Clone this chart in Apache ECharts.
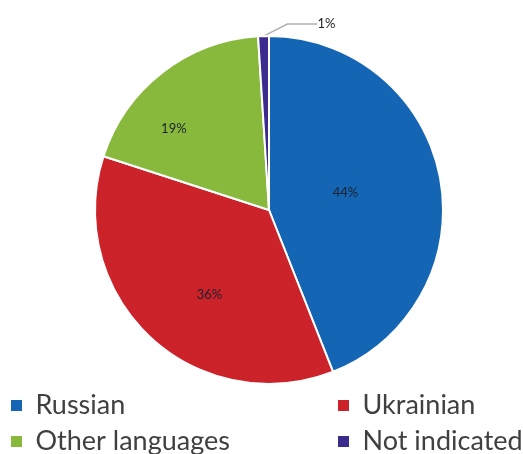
<!DOCTYPE html>
<html><head><meta charset="utf-8">
<script src="https://cdn.jsdelivr.net/npm/echarts@6/dist/echarts.min.js"></script>
<style>html,body{margin:0;padding:0;background:#fff}#c{width:523px;height:454px}</style>
</head><body><div id="c"></div>
<script>
const categories = ["Russian", "Ukrainian", "Other languages", "Not indicated"];
const values = [44, 36, 19, 1];
const colors = ["#1565b5", "#cc2229", "#88b93c", "#3b2b8f"];

const chart = echarts.init(document.getElementById('c'));
const data = categories.map((n, i) => {
  const d = { name: n, value: values[i], itemStyle: { color: colors[i] } };
  if (i === 3) {
    d.label = { position: 'outside', show: true, color: '#222', fontSize: 13 };
    d.labelLine = { show: true, length: 6, length2: 30, lineStyle: { color: '#b0b0b0', width: 1.5 } };
  }
  return d;
});
const labelShift = [[-12, 0], [2, 19], [-40, -10], [107, -6]];
const legendCommon = {
  orient: 'vertical', top: 392, height: 120, itemGap: 9, padding: 0,
  icon: 'path://M0,0h13v13h-13z', itemWidth: 28, itemHeight: 13, symbolKeepAspect: true,
  textStyle: { fontFamily: 'Lato', fontSize: 27, color: '#404040' }
};
chart.setOption({
  backgroundColor: '#fff',
  animation: false,
  legend: [
    Object.assign({ data: [categories[0], categories[2]], left: 9 }, legendCommon),
    Object.assign({ data: [categories[1], categories[3]], left: 336 }, legendCommon)
  ],
  series: [{
    type: 'pie',
    center: [269, 210],
    radius: [0, 174],
    startAngle: 90,
    clockwise: true,
    data: data,
    itemStyle: { borderColor: '#fff', borderWidth: 2 },
    label: { show: true, position: 'inside', formatter: '{d}%', fontFamily: 'Lato', fontSize: 13,
      color: '#1a2230' },
    labelLine: { show: false },
    labelLayout: function (p) {
      const s = labelShift[p.dataIndex];
      if (p.dataIndex === 3) {
        const r = p.labelRect;
        return { x: r.x + s[0], y: r.y + r.height / 2 + s[1], align: 'left', verticalAlign: 'middle' };
      }
      return { dx: s[0], dy: s[1] };
    },
    emphasis: { disabled: true }
  }]
});
</script></body></html>
